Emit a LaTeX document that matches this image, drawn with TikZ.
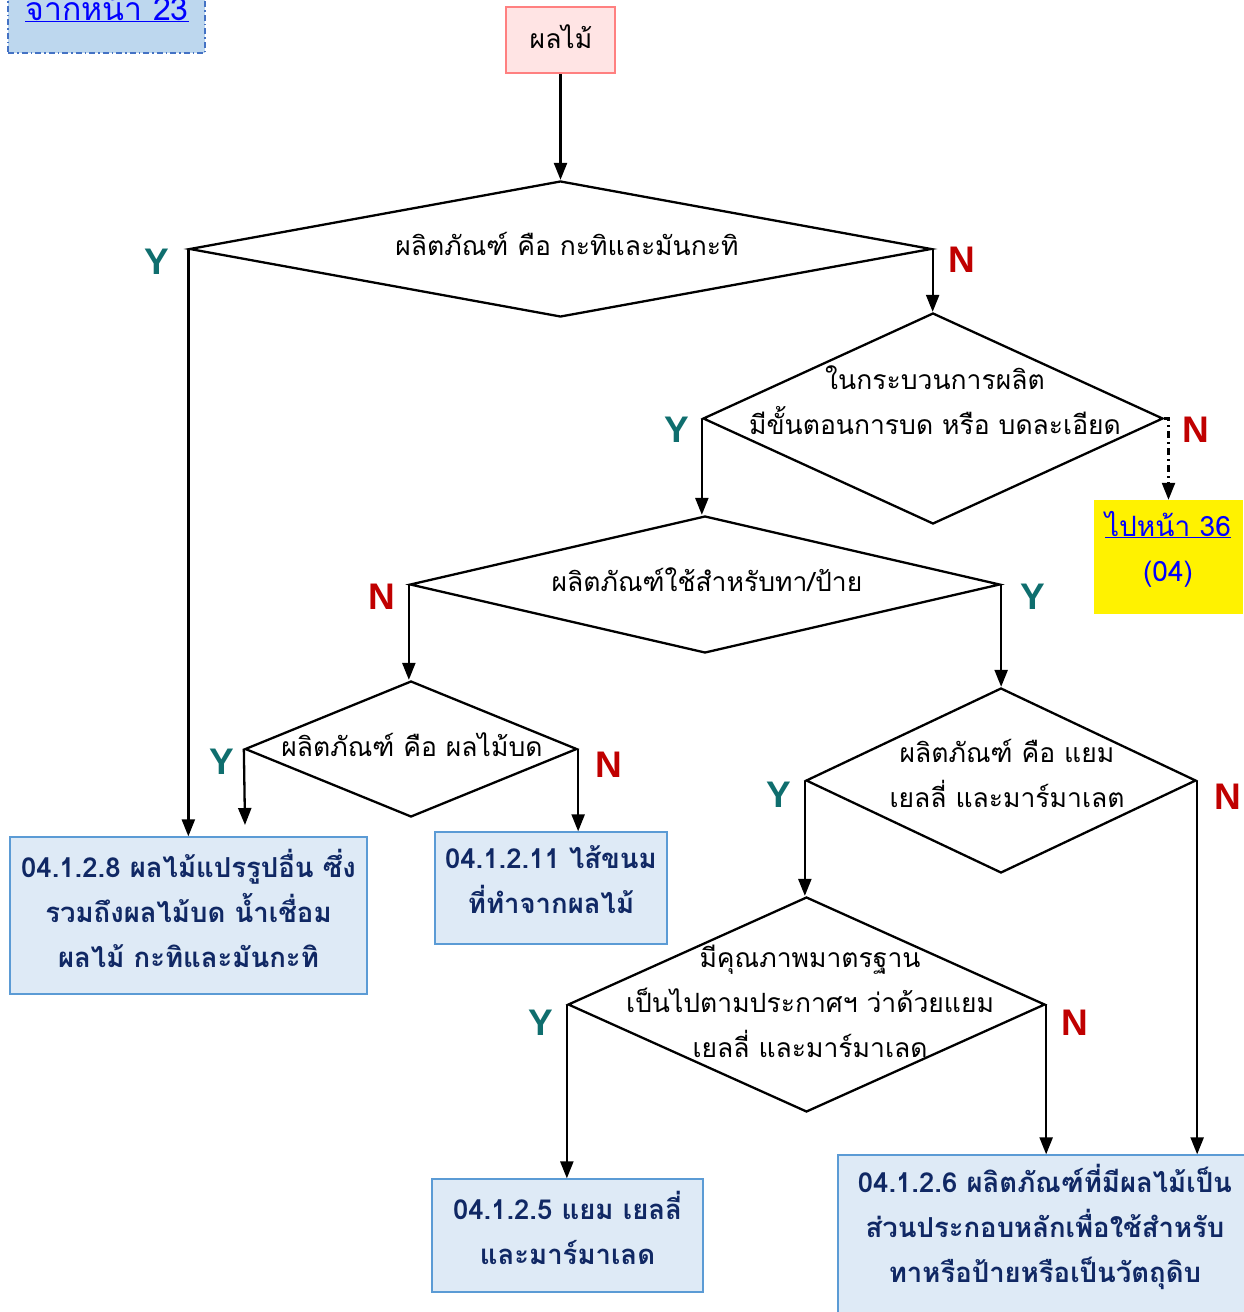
\documentclass[tikz,border=0pt]{standalone}
\usepackage{fontspec}
\usetikzlibrary{shapes.geometric,arrows.meta}
\newfontfamily\thai[Script=Thai]{Loma}
\newfontfamily\ynfont{Liberation Sans}
\definecolor{navytext}{RGB}{16,40,100}
\definecolor{yescol}{RGB}{15,110,110}
\definecolor{nocol}{RGB}{192,0,0}
\definecolor{linkblue}{RGB}{0,0,255}
\definecolor{boxfill}{RGB}{222,234,246}
\definecolor{boxline}{RGB}{91,155,213}
\definecolor{startfill}{RGB}{189,215,238}
\definecolor{startline}{RGB}{68,114,196}
\definecolor{pinkfill}{RGB}{255,228,228}
\definecolor{pinkline}{RGB}{255,128,128}
\begin{document}
\begin{tikzpicture}[x=1pt,y=-1pt,
  every node/.style={font=\thai\fontsize{26.5}{45}\selectfont, inner sep=0pt},
  dia/.style={draw, diamond, line width=2.3pt},
  qtext/.style={align=center, text=black},
  resbox/.style={draw=boxline, fill=boxfill, line width=1.3pt},
  restext/.style={align=center, text=navytext, font=\thai\bfseries\fontsize{27.5}{45}\selectfont},
  arr/.style={line width=2.3pt, -{Triangle[length=17pt,width=13pt]}},
  yes/.style={text=yescol, font=\ynfont\bfseries\fontsize{37}{37}\selectfont},
  no/.style={text=nocol, font=\ynfont\bfseries\fontsize{37}{37}\selectfont}]
\useasboundingbox (0,0) rectangle (1243,1312);

% off-page connector at the top left
\node[draw=startline, fill=startfill, line width=1.3pt,
      dash pattern=on 6pt off 3pt on 1.5pt off 3pt,
      minimum width=197pt, minimum height=90pt] (frompage) at (106.5,8) {};
\node[text=linkblue, anchor=base, font=\thai\fontsize{32}{40}\selectfont] (frompaget) at (107,20) {\underline{จากหน้า 23}};

% start box
\node[draw=pinkline, fill=pinkfill, line width=2pt,
      minimum width=109pt, minimum height=66pt] (fruit) at (560.5,40) {};
\node[qtext] (fruitt) at (561,37) {ผลไม้};

% decisions
\node[dia, minimum width=742pt, minimum height=136pt] (d1) at (560.5,249) {};
\node[qtext] (d1t) at (567,244) {ผลิตภัณฑ์ คือ กะทิและมันกะทิ};

\node[dia, minimum width=460pt, minimum height=211pt] (d2) at (933,418.5) {};
\node[qtext] (d2t) at (935,400) {ในกระบวนการผลิต\\มีขั้นตอนการบด หรือ บดละเอียด};

\node[dia, minimum width=590pt, minimum height=137pt] (d3) at (705,584.5) {};
\node[qtext] (d3t) at (707,580) {ผลิตภัณฑ์ใช้สำหรับทา/ป้าย};

\node[dia, minimum width=332pt, minimum height=136pt] (d4) at (411,749) {};
\node[qtext] (d4t) at (412,745) {ผลิตภัณฑ์ คือ ผลไม้บด};

\node[dia, minimum width=390pt, minimum height=185pt] (d5) at (1001,780.5) {};
\node[qtext] (d5t) at (1007,773) {ผลิตภัณฑ์ คือ แยม\\เยลลี่ และมาร์มาเลต};

\node[dia, minimum width=477pt, minimum height=215pt] (d6) at (806.5,1004.5) {};
\node[qtext] (d6t) at (810,1001) {มีคุณภาพมาตรฐาน\\เป็นไปตามประกาศฯ ว่าด้วยแยม\\เยลลี่ และมาร์มาเลด};

% go-to box
\node[fill=yellow, minimum width=149pt, minimum height=114pt] (topage) at (1168.5,557) {};
\node[text=linkblue, align=center, font=\thai\fontsize{28}{45}\selectfont] (topaget) at (1168,549) {\underline{ไปหน้า 36}\\(04)};

% result boxes
\node[resbox, minimum width=357pt, minimum height=157pt] (b8) at (188.5,915.5) {};
\node[restext] (b8t) at (188.5,908) {04.1.2.8 ผลไม้แปรรูปอื่น ซึ่ง\\รวมถึงผลไม้บด น้ำเชื่อม\\ผลไม้ กะทิและมันกะทิ};

\node[resbox, minimum width=232pt, minimum height=112pt] (b11) at (551,888) {};
\node[restext] (b11t) at (551,880) {04.1.2.11 ไส้ขนม\\ที่ทำจากผลไม้};

\node[resbox, minimum width=271pt, minimum height=113pt] (b5) at (567.5,1235.5) {};
\node[restext] (b5t) at (567.5,1228) {04.1.2.5 แยม เยลลี่\\และมาร์มาเลด};

\node[resbox, minimum width=414pt, minimum height=170pt] (b6) at (1045,1240) {};
\node[restext] (b6t) at (1045,1227) {04.1.2.6 ผลิตภัณฑ์ที่มีผลไม้เป็น\\ส่วนประกอบหลักเพื่อใช้สำหรับ\\ทาหรือป้ายหรือเป็นวัตถุดิบ};

\coordinate (d4end) at (245,825);

% connectors
\draw[arr] (fruit.south) -- (d1.north);
\draw[arr] (d1.west) -- (d1.west |- b8.north);
\draw[arr] (d1.east) -- (d1.east |- d2.north);
\draw[arr, dash pattern=on 7pt off 4pt on 2pt off 4pt]
  (d2.east) -- (topage.north |- d2.east) -- (topage.north);
\draw[arr] (d2.west) -- (d2.west |- d3.north);
\draw[arr] (d3.west) -- (d3.west |- d4.north);
\draw[arr] (d3.east) -- (d3.east |- d5.north);
\draw[arr] (d4.west) -- (d4end);
\draw[arr] (d4.east) -- (d4.east |- b11.north);
\draw[arr] (d5.west) -- (d5.west |- d6.north);
\draw[arr] (d5.east) -- (d5.east |- b6.north);
\draw[arr] (d6.west) -- (d6.west |- b5.north);
\draw[arr] (d6.east) -- (d6.east |- b6.north);

% branch labels
\node[yes] (y1) at (157,262) {Y};
\node[no]  (n1) at (962,260) {N};
\node[yes] (y2) at (677,430) {Y};
\node[no]  (n2) at (1196,430) {N};
\node[no]  (n3) at (382,597) {N};
\node[yes] (y3) at (1033,597) {Y};
\node[yes] (y4) at (222,762) {Y};
\node[no]  (n4) at (609,765) {N};
\node[yes] (y5) at (779,795) {Y};
\node[no]  (n5) at (1228,797) {N};
\node[yes] (y6) at (541,1023) {Y};
\node[no]  (n6) at (1075,1023) {N};
\end{tikzpicture}
\end{document}
